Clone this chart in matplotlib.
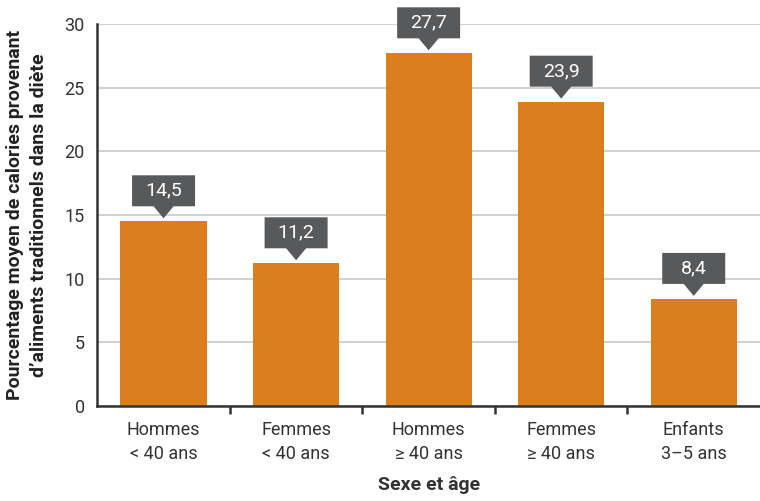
import numpy as np
import matplotlib.pyplot as plt
from matplotlib.patches import Polygon
from matplotlib.transforms import ScaledTranslation

categories = ["Hommes\n< 40 ans", "Femmes\n< 40 ans", "Hommes\n\u2265 40 ans",
              "Femmes\n\u2265 40 ans", "Enfants\n3\u20135 ans"]
values = [14.5, 11.2, 27.7, 23.9, 8.4]
labels = ["14,5", "11,2", "27,7", "23,9", "8,4"]

bar_color = "#DA7F1E"
box_color = "#58595B"

plt.rcParams['font.family'] = ['Roboto', 'DejaVu Sans']

fig = plt.figure(figsize=(7.6, 5.01), dpi=100)
ax = fig.add_axes([0.128, 0.19, 0.872, 0.762])

x = np.arange(len(categories))
ax.bar(x, values, width=0.65, color=bar_color, zorder=2)

ax.set_xlim(-0.5, len(categories) - 0.5)
ax.set_ylim(0, 30)
ax.set_yticks(range(0, 31, 5))
ax.yaxis.grid(True, color="#C8C8C8", linewidth=1.2, zorder=0)
ax.set_axisbelow(True)

for s in ["top", "right"]:
    ax.spines[s].set_visible(False)
for s in ["left", "bottom"]:
    ax.spines[s].set_color("#333333")
    ax.spines[s].set_linewidth(1.8)

ax.tick_params(axis="y", length=0, labelsize=13, pad=9, colors="#333333")
ax.set_xticks(x)
ax.set_xticklabels(categories, fontsize=13, linespacing=1.45, color="#333333")
ax.tick_params(axis="x", length=0, pad=11)
ax.set_xticks(x[:-1] + 0.5, minor=True)
ax.tick_params(axis="x", which="minor", length=6, width=1.8, color="#333333")

ax.set_xlabel("Sexe et \u00e2ge", fontsize=14, fontweight="bold", labelpad=9, color="#333333")
ax.set_ylabel("Pourcentage moyen de calories provenant\nd\u2019aliments traditionnels dans la di\u00e8te",
              fontsize=14, fontweight="bold", labelpad=12, color="#222222", linespacing=1.4)

# value callouts: box with a pointer, sized in pixels above each bar top
def callout(xc, yc, text):
    w, h, gap, ptr, pw = 63, 31, 3, 12, 10
    px = [(0, gap), (-pw, gap + ptr), (-w / 2, gap + ptr), (-w / 2, gap + ptr + h),
          (w / 2, gap + ptr + h), (w / 2, gap + ptr), (pw, gap + ptr)]
    verts = [(a / 100, b / 100) for a, b in px]
    tr = fig.dpi_scale_trans + ScaledTranslation(xc, yc, ax.transData)
    ax.add_patch(Polygon(verts, closed=True, facecolor=box_color, edgecolor="none",
                         transform=tr, clip_on=False, zorder=3))
    ax.text(0, (gap + ptr + h / 2) / 100, text, transform=tr, ha="center", va="center",
            color="white", fontsize=14, zorder=4)

for xi, v, t in zip(x, values, labels):
    callout(xi, v, t)

fig.savefig("out.png", dpi=100)
